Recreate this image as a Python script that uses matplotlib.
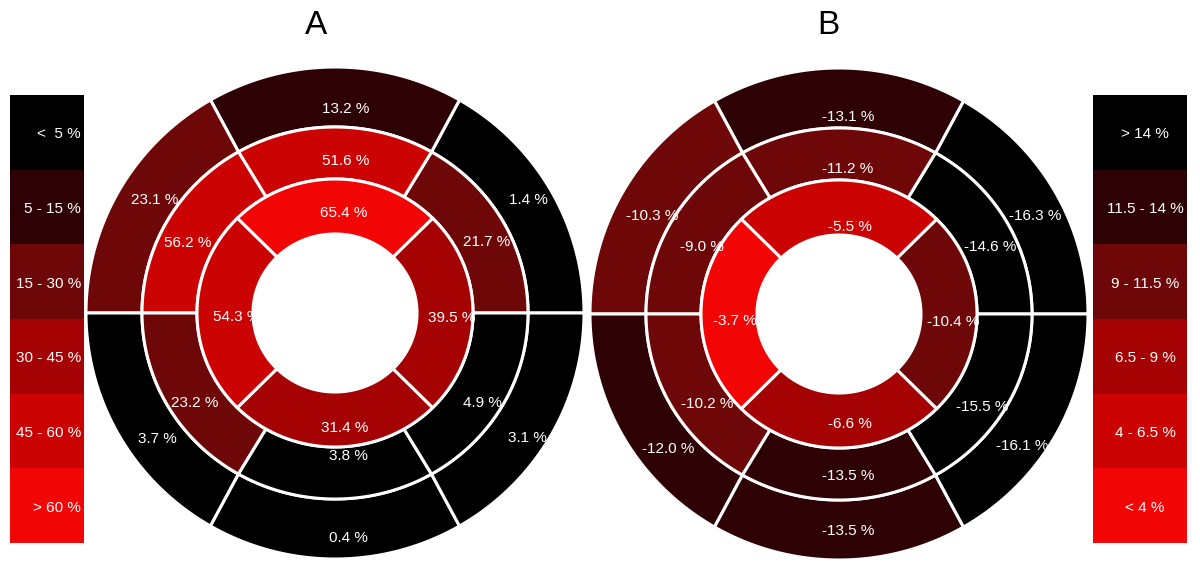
import numpy as np
import matplotlib
matplotlib.use("Agg")
import matplotlib.pyplot as plt
from matplotlib.patches import Polygon, Rectangle

# ---------------- data ----------------
# ring values listed counter-clockwise, starting at 3 o'clock
a_outer = [1.4, 13.2, 23.1, 3.7, 0.4, 3.1]
a_mid = [21.7, 51.6, 56.2, 23.2, 3.8, 4.9]
a_inner = [39.5, 65.4, 54.3, 31.4]          # right, top, left, bottom

b_outer = [-16.3, -13.1, -10.3, -12.0, -13.5, -16.1]
b_mid = [-14.6, -11.2, -9.0, -10.2, -13.5, -15.5]
b_inner = [-10.4, -5.5, -3.7, -6.6]

a_bins = [5, 15, 30, 45, 60]
a_legend = ["<  5 %", "5 - 15 %", "15 - 30 %", "30 - 45 %", "45 - 60 %", "> 60 %"]
b_bins = [4, 6.5, 9, 11.5, 14]
b_legend = ["> 14 %", "11.5 - 14 %", "9 - 11.5 %", "6.5 - 9 %", "4 - 6.5 %", "< 4 %"]
titles = ["A", "B"]

# level colours: darkest (0) to brightest red (5)
level_colors = ["#000000", "#2e0204", "#6e0707", "#a50303", "#cc0303", "#f20505"]

# ---------------- layout ----------------
W, H = 1200, 579
fig = plt.figure(figsize=(W / 100, H / 100), dpi=100)
ax = fig.add_axes([0, 0, 1, 1])
ax.set_xlim(0, W)
ax.set_ylim(0, H)
ax.axis("off")

# ring boundaries (horizontal radius, vertical radius) in pixels
bounds = [(82, 79), (138, 134), (193, 186), (249, 246)]
ring_specs = [  # (ring index, n segments, start angle)
    (2, 6, 0.0),   # outer
    (1, 6, 0.0),   # mid
    (0, 4, -45.0),  # inner
]

# label offsets (dx, dy) from centre, per ring / segment
a_lab = {
    2: [(193, 113), (11, 204), (-180, 113), (-178, -126), (13, -225), (192, -125)],
    1: [(152, 71), (11, 152), (-147, 70), (-140, -90), (13, -143), (147, -90)],
    0: [(117, -5), (9, 100), (-98, -4), (10, -115)],
}
b_lab = {
    2: [(196, 98), (9, 197), (-187, 98), (-171, -135), (9, -217), (183, -132)],
    1: [(151, 67), (9, 145), (-137, 67), (-132, -90), (9, -162), (143, -93)],
    0: [(114, -8), (11, 87), (-104, -7), (11, -110)],
}

lab_font = dict(family=["Liberation Sans", "DejaVu Sans"], fontsize=11, color="white")


def level_a(v):
    return int(np.digitize(v, a_bins))


def level_b(v):
    return 5 - int(np.digitize(abs(v), b_bins))


def segment(cx, cy, b_in, b_out, t1, t2):
    t = np.radians(np.linspace(t1, t2, 80))
    xo = cx + b_out[0] * np.cos(t)
    yo = cy + b_out[1] * np.sin(t)
    xi = cx + b_in[0] * np.cos(t[::-1])
    yi = cy + b_in[1] * np.sin(t[::-1])
    return np.column_stack([np.r_[xo, xi], np.r_[yo, yi]])


def bullseye(cx, cy, rings, level_fn, labels):
    for ring_idx, nseg, start in ring_specs:
        vals = rings[ring_idx]
        step = 360.0 / nseg
        for k, v in enumerate(vals):
            t1 = start + k * step
            t2 = t1 + step
            poly = Polygon(segment(cx, cy, bounds[ring_idx], bounds[ring_idx + 1], t1, t2),
                           closed=True, facecolor=level_colors[level_fn(v)],
                           edgecolor="white", linewidth=2.2, joinstyle="miter", zorder=2)
            ax.add_patch(poly)
            dx, dy = labels[ring_idx][k]
            ax.text(cx + dx, cy + dy, f"{v:.1f} %", ha="center", va="center",
                    zorder=5, **lab_font)


bullseye(335, H - 313, [a_inner, a_mid, a_outer], level_a, a_lab)
bullseye(839, H - 314, [b_inner, b_mid, b_outer], level_b, b_lab)

# titles
tfont = dict(family=["Liberation Sans Narrow", "Liberation Sans", "DejaVu Sans"],
             fontsize=24, color="black")
ax.text(316, H - 25, titles[0], ha="center", va="center", **tfont)
ax.text(828, H - 25, titles[1], ha="center", va="center", **tfont)

# colour legends
top, bot = H - 95, H - 543
bh = (top - bot) / 6.0


def legend(x0, x1, texts, colors, tx, ha):
    for i, t in enumerate(texts):
        y0 = top - (i + 1) * bh
        ax.add_patch(Rectangle((x0, y0), x1 - x0, bh, facecolor=colors[i],
                               edgecolor="none", zorder=2))
        ax.text(tx, y0 + bh / 2 - 2, t, ha=ha, va="center", zorder=3,
                family=["Liberation Sans", "DejaVu Sans"], fontsize=11, color="white")


legend(10, 84, a_legend, level_colors, 81, "right")
legend(1093, 1187, b_legend, level_colors, 1145, "center")

fig.savefig("out.png", dpi=100)
